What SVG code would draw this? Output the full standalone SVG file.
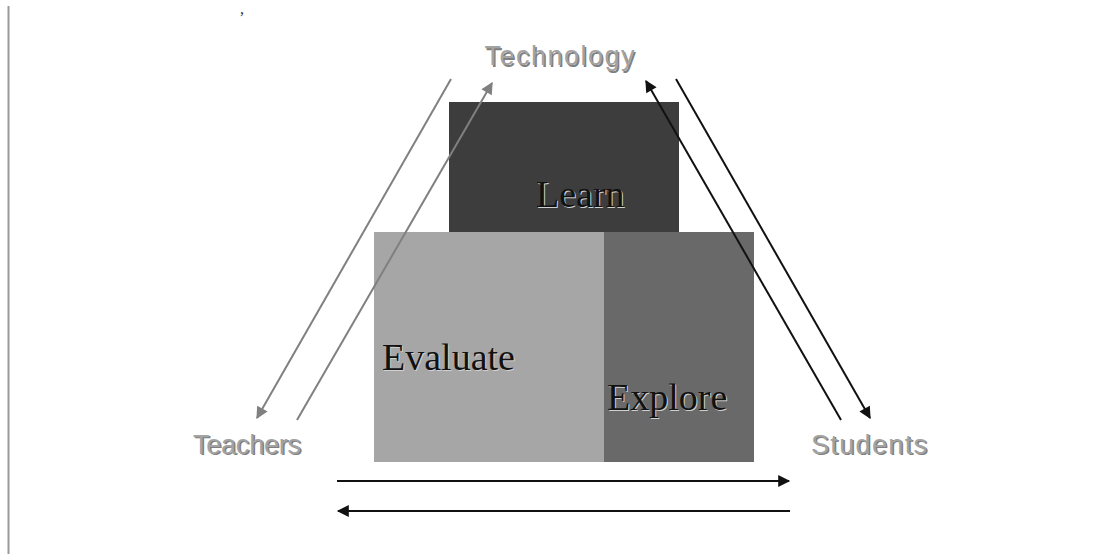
<svg xmlns="http://www.w3.org/2000/svg" width="1112" height="554" viewBox="0 0 1112 554">
<style>
.lbl{font-family:"Liberation Sans",Arial,sans-serif;font-size:27px;fill:#a3a3a3}
.lblsh{font-family:"Liberation Sans",Arial,sans-serif;font-size:27px;fill:#808080}
.blk{font-family:"Liberation Serif","Times New Roman",serif;font-size:38px;fill:#111}
.blksh{font-family:"Liberation Serif","Times New Roman",serif;font-size:38px;fill:#d0d0d0}
.gray{stroke:#808080;stroke-width:2;fill:none}
.dark{stroke:#111;stroke-width:2;fill:none}
</style>
<defs>
<marker id="ag" viewBox="0 0 10 10" refX="9" refY="5" markerWidth="6.5" markerHeight="6" markerUnits="strokeWidth" orient="auto"><path d="M0,0 L10,5 L0,10 z" fill="#808080"/></marker>
<marker id="ad" viewBox="0 0 10 10" refX="9" refY="5" markerWidth="6.5" markerHeight="6" markerUnits="strokeWidth" orient="auto"><path d="M0,0 L10,5 L0,10 z" fill="#111"/></marker>
</defs>
<rect width="1112" height="554" fill="#fff"/>
<line x1="8.5" y1="6" x2="8.5" y2="554" stroke="#999" stroke-width="2"/>
<text x="240" y="14" font-family="Liberation Serif, serif" font-size="16" fill="#333">,</text>

<g id="learn">
<rect x="449" y="102" width="230" height="130" fill="#3d3d3d"/>
<text class="blksh" x="537" y="208">Learn</text>
<text class="blk" x="536" y="207">Learn</text>
</g>
<g id="evaluate">
<rect x="374" y="232" width="230" height="230" fill="#a6a6a6"/>
<text class="blksh" x="383" y="371">Evaluate</text>
<text class="blk" x="382" y="370">Evaluate</text>
</g>
<g id="explore">
<rect x="604" y="232" width="150" height="230" fill="#696969"/>
<text class="blksh" x="608" y="411">Explore</text>
<text class="blk" x="607" y="410">Explore</text>
</g>

<g id="technology">
<text class="lblsh" x="486" y="66.5" textLength="150">Technology</text>
<text class="lbl" x="484.5" y="65" textLength="150">Technology</text>
</g>
<g id="teachers">
<text class="lblsh" x="194.5" y="455" textLength="108">Teachers</text>
<text class="lbl" x="193" y="453.5" textLength="108">Teachers</text>
</g>
<g id="students">
<text class="lblsh" x="812.5" y="455" textLength="116">Students</text>
<text class="lbl" x="811" y="453.5" textLength="116">Students</text>
</g>

<g id="connectors">
<line class="gray" x1="451" y1="79" x2="257" y2="418" marker-end="url(#ag)"/>
<line class="gray" x1="297" y1="420" x2="492" y2="83" marker-end="url(#ag)"/>
<line class="dark" x1="841" y1="420" x2="646" y2="81" marker-end="url(#ad)"/>
<line class="dark" x1="676" y1="79" x2="870" y2="418" marker-end="url(#ad)"/>
<line class="dark" x1="337" y1="481" x2="789" y2="481" marker-end="url(#ad)"/>
<line class="dark" x1="790" y1="511" x2="338" y2="511" marker-end="url(#ad)"/>
</g>
</svg>
